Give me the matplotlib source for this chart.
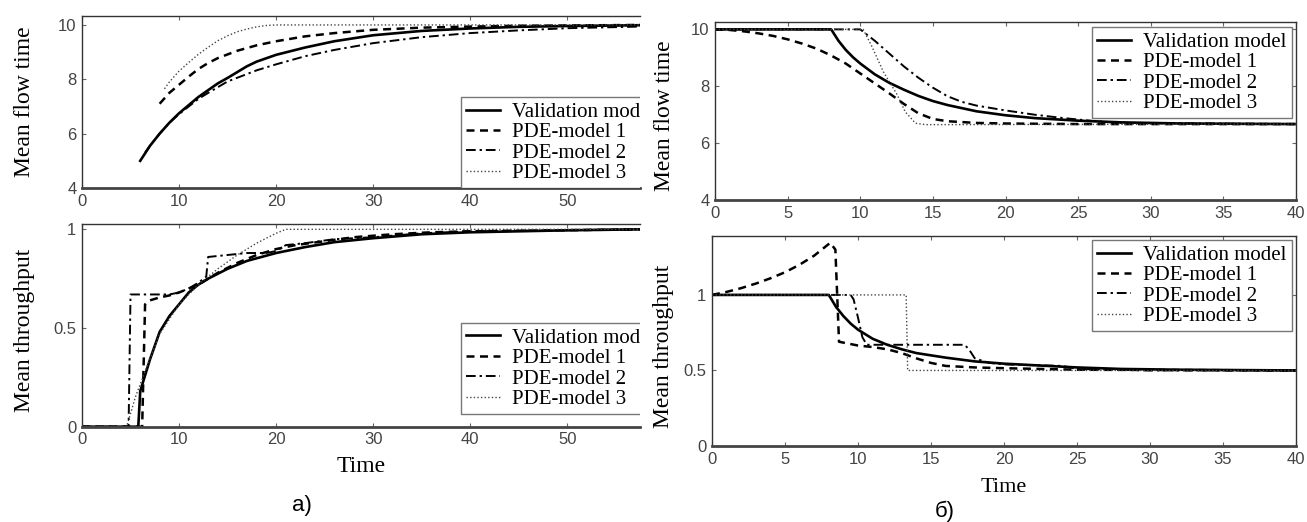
import matplotlib
matplotlib.use("Agg")
import matplotlib.pyplot as plt
from matplotlib.ticker import FixedLocator

# ---------------- data ----------------
labels = ["Validation model", "PDE-model 1", "PDE-model 2", "PDE-model 3"]

# panel a) top: mean flow time
val_t_a = [6, 7, 8, 9, 10, 11, 12, 13, 14, 15, 17, 18, 20, 23, 26, 30, 35, 40, 45, 50, 57.5]
val_f_a = [5.0, 5.55, 6.0, 6.4, 6.75, 7.05, 7.35, 7.6, 7.85, 8.05, 8.48, 8.65, 8.9, 9.17, 9.4, 9.62, 9.78, 9.87, 9.93, 9.96, 9.99]
pde1_t_a = [8, 9, 10, 11, 12, 13, 14, 16, 18, 20, 23, 26, 30, 35, 40, 45, 50, 57.5]
pde1_f_a = [7.1, 7.5, 7.8, 8.1, 8.38, 8.6, 8.78, 9.05, 9.25, 9.4, 9.58, 9.7, 9.82, 9.9, 9.94, 9.97, 9.98, 10.0]
pde2_t_a = [6.5, 7, 8, 9, 10, 11, 12, 13, 15, 18, 20, 23, 26, 30, 35, 40, 45, 50, 57.5]
pde2_f_a = [5.3, 5.55, 6.0, 6.4, 6.72, 7.0, 7.28, 7.5, 7.92, 8.33, 8.55, 8.85, 9.08, 9.33, 9.55, 9.7, 9.8, 9.88, 9.94]
pde3_t_a = [8.5, 9, 10, 11, 12, 13, 14, 15, 16, 17, 18, 19, 20, 57.5]
pde3_f_a = [7.65, 7.9, 8.3, 8.62, 8.92, 9.18, 9.42, 9.6, 9.75, 9.85, 9.93, 9.98, 10.0, 10.0]

# panel a) bottom: mean throughput
val_t_b = [0, 5.8, 6.0, 6.5, 7, 8, 9, 10, 11, 12, 13, 15, 17, 20, 23, 26, 30, 35, 40, 50, 57.5]
val_p_b = [0, 0, 0.18, 0.26, 0.34, 0.48, 0.56, 0.62, 0.68, 0.72, 0.75, 0.8, 0.84, 0.88, 0.91, 0.935, 0.955, 0.975, 0.985, 0.995, 1.0]
pde1_t_b = [0, 6.2, 6.5, 7, 8, 9, 10, 11, 12, 13, 14, 16, 18, 20, 22, 25, 28, 32, 36, 40, 57.5]
pde1_p_b = [0, 0, 0.62, 0.64, 0.655, 0.665, 0.68, 0.7, 0.72, 0.75, 0.78, 0.83, 0.87, 0.9, 0.92, 0.94, 0.96, 0.975, 0.985, 0.99, 1.0]
pde2_t_b = [0, 4.8, 5.0, 7, 9, 10, 11, 12, 12.8, 13, 15, 17, 19, 20, 21, 23, 26, 30, 35, 40, 57.5]
pde2_p_b = [0, 0, 0.67, 0.67, 0.67, 0.68, 0.7, 0.73, 0.76, 0.86, 0.87, 0.88, 0.88, 0.89, 0.92, 0.93, 0.95, 0.96, 0.98, 0.99, 1.0]
pde3_t_b = [0, 4.6, 5.5, 6.5, 8, 10, 12, 14, 16, 18, 20, 21, 57.5]
pde3_p_b = [0, 0, 0.15, 0.28, 0.47, 0.62, 0.72, 0.8, 0.87, 0.93, 0.98, 1.0, 1.0]

# panel б) top: mean flow time
val_t_c = [0, 8, 8.5, 9, 9.5, 10, 11, 12, 13, 14, 15, 16, 18, 20, 22, 25, 28, 32, 40]
val_f_c = [10, 10, 9.6, 9.28, 9.02, 8.8, 8.42, 8.12, 7.88, 7.66, 7.48, 7.34, 7.12, 6.98, 6.88, 6.79, 6.73, 6.69, 6.67]
pde1_t_c = [0, 1, 2, 3, 4, 5, 6, 7, 8, 9, 10, 11, 12, 13, 14, 15, 16, 18, 20, 25, 40]
pde1_f_c = [10, 9.98, 9.93, 9.86, 9.77, 9.65, 9.5, 9.32, 9.08, 8.8, 8.45, 8.1, 7.75, 7.38, 7.05, 6.85, 6.77, 6.71, 6.69, 6.67, 6.67]
pde2_t_c = [0, 10, 11, 12, 13, 14, 15, 16, 17, 18, 20, 22, 24, 26, 28, 40]
pde2_f_c = [10, 10, 9.6, 9.15, 8.7, 8.3, 7.95, 7.65, 7.45, 7.32, 7.15, 7.0, 6.88, 6.78, 6.71, 6.67]
pde3_t_c = [0, 10.2, 10.8, 11.6, 12.5, 13.1, 13.8, 14.5, 40]
pde3_f_c = [10, 10, 9.4, 8.5, 7.74, 7.1, 6.7, 6.65, 6.67]

# panel б) bottom: mean throughput
val_t_d = [0, 8, 8.5, 9, 9.5, 10, 11, 12, 13, 14, 15, 16, 18, 20, 22, 25, 28, 32, 40]
val_p_d = [1, 1, 0.92, 0.86, 0.81, 0.77, 0.71, 0.67, 0.64, 0.615, 0.6, 0.585, 0.56, 0.545, 0.535, 0.52, 0.51, 0.505, 0.5]
pde1_t_d = [0, 1, 2, 3, 4, 5, 6, 7, 8.1, 8.45, 8.7, 10, 11, 12, 13, 14, 15, 16, 18, 20, 25, 40]
pde1_p_d = [1.0, 1.02, 1.045, 1.075, 1.11, 1.15, 1.2, 1.26, 1.345, 1.3, 0.69, 0.665, 0.655, 0.64, 0.615, 0.58, 0.55, 0.53, 0.52, 0.515, 0.505, 0.5]
pde2_t_d = [0, 9.5, 9.7, 10.0, 10.3, 10.6, 12, 14, 16, 17.3, 17.6, 18, 19, 20, 22, 24, 25, 30, 40]
pde2_p_d = [1, 1, 0.97, 0.85, 0.72, 0.67, 0.67, 0.67, 0.67, 0.67, 0.64, 0.58, 0.55, 0.54, 0.535, 0.53, 0.51, 0.5, 0.5]
pde3_t_d = [0, 13.3, 13.4, 40]
pde3_p_d = [1, 1, 0.5, 0.5]

xticks_a = [0, 10, 20, 30, 40, 50]
xticks_b = [0, 5, 10, 15, 20, 25, 30, 35, 40]
yticks_flow = [4, 6, 8, 10]
yticks_thr = [0, 0.5, 1]
ytick_labels_thr = ["0", "0.5", "1"]

# ---------------- style ----------------
W, H = 1307, 522
fig = plt.figure(figsize=(W / 100, H / 100), dpi=100)
fig.patch.set_facecolor("white")

SERIF = "Liberation Serif"
SANS = "Liberation Sans"

styles = [
    dict(color="black", lw=1.9, ls="-"),
    dict(color="black", lw=1.8, ls=(0, (3.2, 2.2))),
    dict(color="black", lw=1.4, ls=(0, (5, 2, 1.2, 2))),
    dict(color="#444444", lw=1.0, ls=(0, (1, 1.6))),
]


def px_axes(x0, y0, x1, y1):
    return fig.add_axes([x0 / W, 1 - y1 / H, (x1 - x0) / W, (y1 - y0) / H])


def style_axes(ax, xlim, ylim, xticks, yticks, ylabels=None, right_spine=True):
    ax.set_xlim(*xlim)
    ax.set_ylim(*ylim)
    ax.xaxis.set_major_locator(FixedLocator(xticks))
    ax.yaxis.set_major_locator(FixedLocator(yticks))
    if ylabels is not None:
        ax.set_yticklabels(ylabels)
    ax.tick_params(direction="in", length=3, width=0.8, top=True, right=right_spine,
                   labelsize=12, labelcolor="#444444", color="#666666", pad=4)
    for lab in ax.get_xticklabels() + ax.get_yticklabels():
        lab.set_fontfamily(SANS)
    for name, sp in ax.spines.items():
        sp.set_color("#333333")
        sp.set_linewidth(1.0)
    ax.spines["bottom"].set_linewidth(2.0)
    ax.spines["bottom"].set_color("#444444")
    if not right_spine:
        ax.spines["right"].set_visible(False)


def add_legend(ax, x0, y0, clip=False):
    leg = ax.legend(labels, loc="upper left", bbox_to_anchor=(x0 / W, 1 - y0 / H),
                    bbox_transform=fig.transFigure, prop={"family": SERIF, "size": 15},
                    frameon=True, fancybox=False, framealpha=1, edgecolor="#777777",
                    handlelength=1.6, handletextpad=0.6, labelspacing=0.04,
                    borderpad=0.25, borderaxespad=0)
    leg.get_frame().set_linewidth(1.0)
    if clip:
        for a in leg.findobj():
            if a is leg:
                continue
            a.set_clip_box(ax.bbox)
            a.set_clip_on(True)
        leg.legendPatch.set_clip_box(ax.bbox)
    return leg


def plot_set(ax, series):
    for (t, v), st in zip(series, styles):
        ax.plot(t, v, **st)


# panel a) top
ax1 = px_axes(82, 15.7, 640, 188)
plot_set(ax1, [(val_t_a, val_f_a), (pde1_t_a, pde1_f_a), (pde2_t_a, pde2_f_a), (pde3_t_a, pde3_f_a)])
style_axes(ax1, (0, 57.5), (4, 10.34), xticks_a, yticks_flow, right_spine=False)
add_legend(ax1, 461, 97, clip=True)

# panel a) bottom
ax2 = px_axes(82, 224, 640, 426.7)
plot_set(ax2, [(val_t_b, val_p_b), (pde1_t_b, pde1_p_b), (pde2_t_b, pde2_p_b), (pde3_t_b, pde3_p_b)])
style_axes(ax2, (0, 57.5), (0, 1.027), xticks_a, yticks_thr, ytick_labels_thr, right_spine=False)
add_legend(ax2, 461, 323, clip=True)

# panel б) top
ax3 = px_axes(715, 21.7, 1296, 200)
plot_set(ax3, [(val_t_c, val_f_c), (pde1_t_c, pde1_f_c), (pde2_t_c, pde2_f_c), (pde3_t_c, pde3_f_c)])
style_axes(ax3, (0, 40), (4, 10.27), xticks_b, yticks_flow)
add_legend(ax3, 1092, 27)

# panel б) bottom
ax4 = px_axes(712, 236, 1296, 446)
plot_set(ax4, [(val_t_d, val_p_d), (pde1_t_d, pde1_p_d), (pde2_t_d, pde2_p_d), (pde3_t_d, pde3_p_d)])
style_axes(ax4, (0, 40), (0, 1.39), xticks_b, yticks_thr, ytick_labels_thr)
add_legend(ax4, 1092, 240)

# axis labels
def ftext(x, y, s, **kw):
    fig.text(x / W, 1 - y / H, s, ha="center", va="center", **kw)

ftext(25, 102, "Mean flow time", rotation=90, family=SERIF, size=17)
ftext(25, 330, "Mean throughput", rotation=90, family=SERIF, size=17)
ftext(664, 116, "Mean flow time", rotation=90, family=SERIF, size=17)
ftext(664, 346, "Mean throughput", rotation=90, family=SERIF, size=17)
ftext(361, 467, "Time", family=SERIF, size=17)
ftext(1004, 488, "Time", family=SERIF, size=16)
ftext(302, 505, "а)", family=SANS, size=16)
ftext(945, 511, "б)", family=SANS, size=16)

fig.savefig("out.png", dpi=100, facecolor="white")
